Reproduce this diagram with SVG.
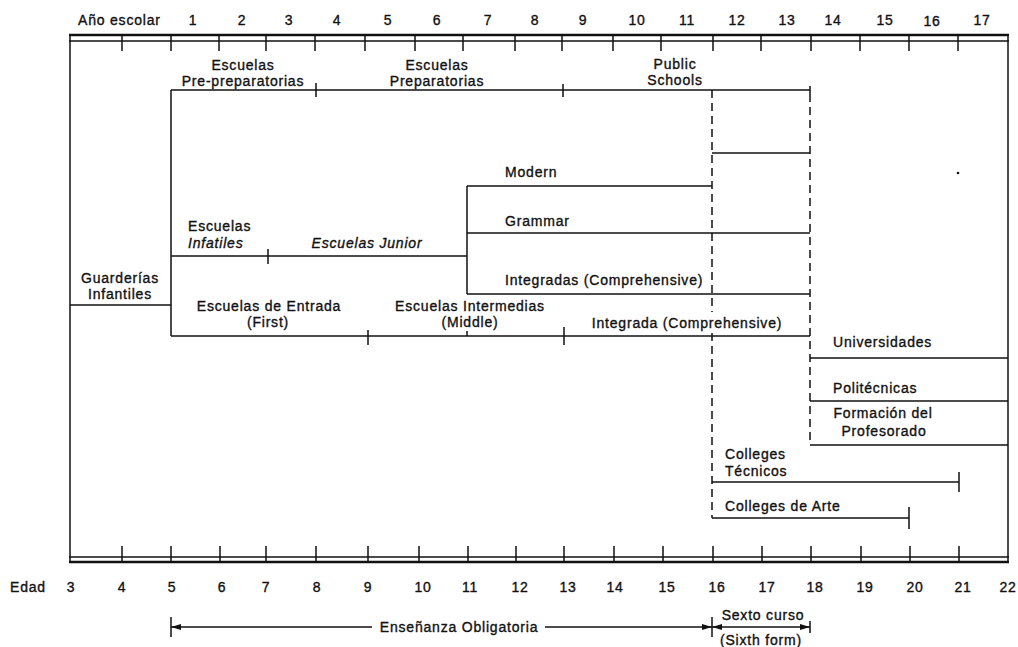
<svg xmlns="http://www.w3.org/2000/svg" width="1018" height="647" viewBox="0 0 1018 647">
<defs>
<style>
text{font-family:"Liberation Sans",Arial,sans-serif;font-size:14px;letter-spacing:0.8px;fill:#111;stroke:#111;stroke-width:0.35}
.m{text-anchor:middle}
.i{font-style:italic}
.ln{stroke:#111;stroke-width:1.5;fill:none}
.th{stroke:#111;stroke-width:2.4;fill:none}
.ds{stroke:#111;stroke-width:1.5;fill:none;stroke-dasharray:8 5}
.tk{stroke:#111;stroke-width:1.5}
</style>
<marker id="ah" viewBox="0 0 10 6" refX="10" refY="3" markerWidth="10" markerHeight="6" markerUnits="userSpaceOnUse" orient="auto-start-reverse">
<path d="M0,0 L10,3 L0,6 Z" fill="#111"/>
</marker>
</defs>
<rect width="1018" height="647" fill="#fff"/>

<g id="frame">
<line class="th" x1="69" y1="35" x2="1009" y2="35"/>
<line class="ln" x1="69" y1="41" x2="1009" y2="41"/>
<line class="ln" x1="69" y1="557" x2="1009" y2="557"/>
<line class="th" x1="69" y1="562" x2="1009" y2="562"/>
<line class="ln" x1="70" y1="35" x2="70" y2="562"/>
<line class="ln" x1="1008" y1="35" x2="1008" y2="562"/>
<g class="tk">
<line x1="122" y1="35" x2="122" y2="51"/><line x1="171" y1="35" x2="171" y2="51"/><line x1="219" y1="35" x2="219" y2="51"/><line x1="266" y1="35" x2="266" y2="51"/><line x1="315" y1="35" x2="315" y2="51"/><line x1="365" y1="35" x2="365" y2="51"/><line x1="415" y1="35" x2="415" y2="51"/><line x1="463" y1="35" x2="463" y2="51"/><line x1="515" y1="35" x2="515" y2="51"/><line x1="562" y1="35" x2="562" y2="51"/><line x1="613" y1="35" x2="613" y2="51"/><line x1="661" y1="35" x2="661" y2="51"/><line x1="713" y1="35" x2="713" y2="51"/><line x1="761" y1="35" x2="761" y2="51"/><line x1="811" y1="35" x2="811" y2="51"/><line x1="860" y1="35" x2="860" y2="51"/><line x1="909" y1="35" x2="909" y2="51"/><line x1="958" y1="35" x2="958" y2="51"/>
<line x1="122" y1="546" x2="122" y2="562"/><line x1="171" y1="546" x2="171" y2="562"/><line x1="220" y1="546" x2="220" y2="562"/><line x1="266" y1="546" x2="266" y2="562"/><line x1="316" y1="546" x2="316" y2="562"/><line x1="368" y1="546" x2="368" y2="562"/><line x1="419" y1="546" x2="419" y2="562"/><line x1="468" y1="546" x2="468" y2="562"/><line x1="516" y1="546" x2="516" y2="562"/><line x1="564" y1="546" x2="564" y2="562"/><line x1="614" y1="546" x2="614" y2="562"/><line x1="663" y1="546" x2="663" y2="562"/><line x1="713" y1="546" x2="713" y2="562"/><line x1="762" y1="546" x2="762" y2="562"/><line x1="811" y1="546" x2="811" y2="562"/><line x1="861" y1="546" x2="861" y2="562"/><line x1="910" y1="546" x2="910" y2="562"/><line x1="959" y1="546" x2="959" y2="562"/>
</g>
</g>

<g id="axis-school-year">
<text x="78" y="25">Año escolar</text>
<text class="m" x="193" y="25">1</text><text class="m" x="242" y="25">2</text><text class="m" x="289" y="25">3</text><text class="m" x="337" y="25">4</text><text class="m" x="388" y="25">5</text><text class="m" x="437" y="25">6</text><text class="m" x="488" y="25">7</text><text class="m" x="535" y="25">8</text><text class="m" x="583" y="25">9</text><text class="m" x="637" y="25">10</text><text class="m" x="687" y="25">11</text><text class="m" x="737" y="25">12</text><text class="m" x="787" y="25">13</text><text class="m" x="833" y="25">14</text><text class="m" x="885" y="25">15</text><text class="m" x="932" y="26">16</text><text class="m" x="982" y="25">17</text>
</g>

<g id="axis-age">
<text x="10" y="592">Edad</text>
<text class="m" x="71" y="592">3</text><text class="m" x="122" y="592">4</text><text class="m" x="172" y="592">5</text><text class="m" x="222" y="592">6</text><text class="m" x="266" y="592">7</text><text class="m" x="317" y="592">8</text><text class="m" x="368" y="592">9</text><text class="m" x="423" y="592">10</text><text class="m" x="470" y="592">11</text><text class="m" x="520" y="592">12</text><text class="m" x="568" y="592">13</text><text class="m" x="615" y="592">14</text><text class="m" x="667" y="592">15</text><text class="m" x="717" y="592">16</text><text class="m" x="767" y="592">17</text><text class="m" x="815" y="592">18</text><text class="m" x="865" y="592">19</text><text class="m" x="915" y="592">20</text><text class="m" x="963" y="592">21</text><text class="m" x="1008" y="592">22</text>
</g>

<g id="connectors">
<line class="ln" x1="70" y1="305" x2="171" y2="305"/>
<line class="ln" x1="171" y1="90" x2="171" y2="336"/>
<line class="ln" x1="171" y1="90" x2="810" y2="90"/>
<line class="tk" x1="316" y1="83" x2="316" y2="97"/>
<line class="tk" x1="563" y1="84" x2="563" y2="97"/>
<line class="tk" x1="810" y1="86" x2="810" y2="94"/>
<line class="ln" x1="712" y1="153" x2="810" y2="153"/>
<line class="ln" x1="171" y1="256" x2="467" y2="256"/>
<line class="tk" x1="268" y1="249" x2="268" y2="264"/>
<line class="ln" x1="467" y1="186" x2="467" y2="294"/>
<line class="ln" x1="467" y1="186" x2="712" y2="186"/>
<line class="ln" x1="467" y1="233" x2="810" y2="233"/>
<line class="ln" x1="467" y1="294" x2="810" y2="294"/>
<line class="ln" x1="171" y1="336" x2="810" y2="336"/>
<line class="tk" x1="368" y1="330" x2="368" y2="345"/>
<line class="tk" x1="467" y1="331" x2="467" y2="336"/>
<line class="tk" x1="564" y1="327" x2="564" y2="345"/>
<line class="ds" x1="712" y1="90" x2="712" y2="312"/>
<line class="ds" x1="712" y1="333" x2="712" y2="518"/>
<line class="ds" x1="810" y1="94" x2="810" y2="445"/>
<line class="ln" x1="810" y1="358" x2="1008" y2="358"/>
<line class="ln" x1="810" y1="401" x2="1008" y2="401"/>
<line class="ln" x1="810" y1="445" x2="1008" y2="445"/>
<line class="ln" x1="712" y1="482" x2="959" y2="482"/>
<line class="tk" x1="959" y1="472" x2="959" y2="492"/>
<line class="ln" x1="712" y1="518" x2="909" y2="518"/>
<line class="tk" x1="909" y1="507" x2="909" y2="529"/>
<line class="tk" x1="171" y1="617" x2="171" y2="637"/>
<line class="ln" x1="372" y1="627" x2="171" y2="627" marker-end="url(#ah)"/>
<line class="ln" x1="545" y1="627" x2="712" y2="627" marker-end="url(#ah)"/>
<line class="tk" x1="712" y1="617" x2="712" y2="637"/>
<line class="ln" x1="712" y1="627" x2="810" y2="627" marker-start="url(#ah)" marker-end="url(#ah)"/>
<line class="tk" x1="810" y1="621" x2="810" y2="633"/>
</g>

<circle cx="958" cy="173" r="1.3" fill="#111"/>

<g id="n-guarderias"><text class="m" x="120" y="283">Guarderías</text><text class="m" x="120" y="299">Infantiles</text></g>
<g id="n-prepreparatorias"><text class="m" x="243" y="70">Escuelas</text><text class="m" x="243" y="86">Pre-preparatorias</text></g>
<g id="n-preparatorias"><text class="m" x="437" y="70">Escuelas</text><text class="m" x="437" y="86">Preparatorias</text></g>
<g id="n-public"><text class="m" x="675" y="69">Public</text><text class="m" x="675" y="85">Schools</text></g>
<g id="n-infantiles"><text x="188" y="231">Escuelas</text><text class="i" x="188" y="248">Infatiles</text></g>
<g id="n-junior"><text class="i m" x="367" y="248">Escuelas Junior</text></g>
<g id="n-modern"><text x="505" y="177">Modern</text></g>
<g id="n-grammar"><text x="505" y="226">Grammar</text></g>
<g id="n-integradas"><text x="505" y="285">Integradas (Comprehensive)</text></g>
<g id="n-entrada"><text class="m" x="269" y="311">Escuelas de Entrada</text><text class="m" x="268" y="327">(First)</text></g>
<g id="n-intermedias"><text class="m" x="470" y="311">Escuelas Intermedias</text><text class="m" x="470" y="327">(Middle)</text></g>
<g id="n-integrada"><text class="m" x="687" y="328">Integrada (Comprehensive)</text></g>
<g id="n-universidades"><text x="833" y="347">Universidades</text></g>
<g id="n-politecnicas"><text x="833" y="393">Politécnicas</text></g>
<g id="n-profesorado"><text class="m" x="883" y="418">Formación del</text><text class="m" x="884" y="436">Profesorado</text></g>
<g id="n-tecnicos"><text x="725" y="459">Colleges</text><text x="725" y="476">Técnicos</text></g>
<g id="n-arte"><text x="725" y="511">Colleges de Arte</text></g>
<g id="n-obligatoria"><text class="m" x="459" y="632">Enseñanza Obligatoria</text></g>
<g id="n-sexto"><text class="m" x="763" y="620">Sexto curso</text><text class="m" x="761" y="645">(Sixth form)</text></g>
</svg>
